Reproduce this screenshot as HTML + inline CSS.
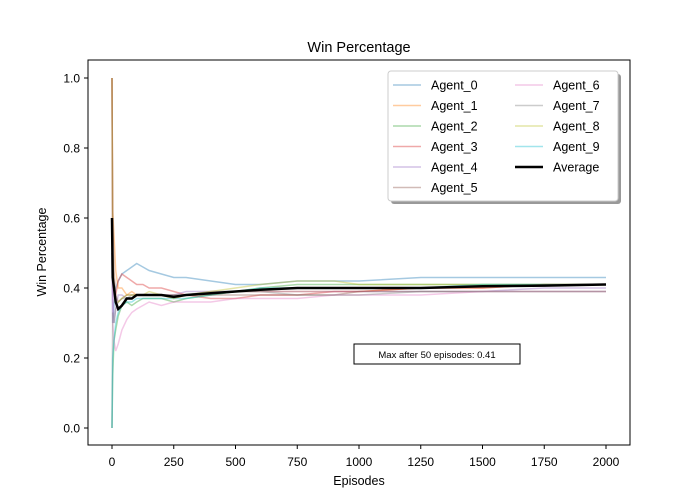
<!DOCTYPE html>
<html><head><meta charset="utf-8"><style>
body{margin:0;background:#fff}svg{display:block;font-family:"Liberation Sans","DejaVu Sans",sans-serif}
</style></head><body>
<svg id="chart" width="700" height="500" viewBox="0 0 700 500">
<rect width="700" height="500" fill="#fff"/>
<text x="359" y="52" font-size="14.5" text-anchor="middle">Win Percentage</text>
<g id="plot"></g>
<rect x="88" y="60" width="542" height="385" fill="none" stroke="#000" stroke-width="1"/>
<g id="axes" font-size="12"></g>
<text x="359" y="485" font-size="12.5" text-anchor="middle">Episodes</text>
<text x="46" y="252" font-size="12.5" text-anchor="middle" transform="rotate(-90 46 252)">Win Percentage</text>
<g>
<rect x="391" y="74" width="230" height="130" rx="3" fill="#999"/>
<rect x="388" y="71" width="230" height="130" rx="3" fill="#fff" stroke="#ccc"/>
<g id="legend-items" font-size="12.5"></g>
</g>
<g>
<rect x="354" y="344" width="166" height="20" fill="#fff" stroke="#000"/>
<text x="437" y="358" font-size="9.5" text-anchor="middle">Max after 50 episodes: 0.41</text>
</g>
</svg>
<script>
const episodes=[0,3,8,15,25,40,60,80,100,125,150,200,250,300,400,500,600,750,900,1000,1250,1500,1750,2000];
const agentNames=["Agent_0","Agent_1","Agent_2","Agent_3","Agent_4","Agent_5","Agent_6","Agent_7","Agent_8","Agent_9"];
const agent0=[0.5,0.3,0.35,0.40,0.42,0.44,0.45,0.46,0.47,0.46,0.45,0.44,0.43,0.43,0.42,0.41,0.41,0.42,0.42,0.42,0.43,0.43,0.43,0.43];
const agent1=[1.0,0.62,0.55,0.45,0.40,0.40,0.38,0.39,0.38,0.38,0.38,0.38,0.37,0.38,0.38,0.39,0.39,0.39,0.39,0.39,0.40,0.40,0.41,0.41];
const agent2=[0.0,0.15,0.25,0.28,0.32,0.35,0.36,0.35,0.36,0.37,0.37,0.37,0.36,0.37,0.38,0.39,0.40,0.41,0.41,0.41,0.41,0.41,0.41,0.41];
const agent3=[1.0,0.5,0.4,0.38,0.42,0.44,0.43,0.42,0.41,0.41,0.40,0.40,0.39,0.38,0.37,0.37,0.38,0.38,0.39,0.39,0.40,0.40,0.41,0.41];
const agent4=[1.0,0.4,0.3,0.34,0.38,0.38,0.37,0.37,0.38,0.38,0.38,0.38,0.38,0.39,0.39,0.39,0.39,0.39,0.39,0.39,0.39,0.39,0.40,0.40];
const agent5=[1.0,0.6,0.45,0.38,0.36,0.37,0.38,0.38,0.38,0.38,0.38,0.38,0.38,0.38,0.38,0.38,0.38,0.38,0.38,0.39,0.39,0.39,0.39,0.39];
const agent6=[0.5,0.3,0.25,0.22,0.24,0.28,0.31,0.33,0.34,0.35,0.36,0.35,0.36,0.36,0.36,0.37,0.37,0.37,0.38,0.38,0.38,0.39,0.39,0.39];
const agent7=[0.0,0.33,0.3,0.34,0.36,0.37,0.37,0.38,0.38,0.38,0.38,0.38,0.38,0.38,0.39,0.39,0.39,0.38,0.38,0.38,0.39,0.39,0.39,0.39];
const agent8=[1.0,0.5,0.4,0.36,0.36,0.37,0.38,0.38,0.38,0.38,0.39,0.38,0.37,0.38,0.39,0.40,0.41,0.42,0.42,0.41,0.41,0.41,0.41,0.41];
const agent9=[0.0,0.2,0.25,0.30,0.33,0.35,0.36,0.36,0.37,0.37,0.37,0.37,0.37,0.37,0.38,0.39,0.40,0.40,0.40,0.40,0.40,0.41,0.41,0.41];
const average=[0.6,0.43,0.40,0.36,0.34,0.35,0.37,0.37,0.38,0.38,0.38,0.38,0.375,0.38,0.385,0.39,0.395,0.40,0.40,0.40,0.40,0.405,0.407,0.41];
const xTicks=[0,250,500,750,1000,1250,1500,1750,2000];
const yTicks=[0.0,0.2,0.4,0.6,0.8,1.0];

const colors=["#1f77b4","#ff7f0e","#2ca02c","#d62728","#9467bd","#8c564b","#e377c2","#7f7f7f","#bcbd22","#17becf"];
const agents=[agent0,agent1,agent2,agent3,agent4,agent5,agent6,agent7,agent8,agent9];
const NS="http://www.w3.org/2000/svg";
const xs=v=>112+v*(494/2000);
const ys=v=>428-v*350;
function mk(t,a,p){const e=document.createElementNS(NS,t);for(const k in a)e.setAttribute(k,a[k]);p.appendChild(e);return e;}
const plot=document.getElementById('plot');
agents.forEach((arr,i)=>{
  const d=arr.map((v,j)=>(j?'L':'M')+xs(episodes[j]).toFixed(1)+' '+ys(v).toFixed(1)).join(' ');
  const p=mk('path',{d:d,fill:'none',stroke:colors[i],'stroke-width':1.5,'stroke-opacity':0.4},plot);
  
  
});
const ad=average.map((v,j)=>(j?'L':'M')+xs(episodes[j]).toFixed(1)+' '+ys(v).toFixed(1)).join(' ');
const avg=mk('path',{d:ad,fill:'none',stroke:'#000','stroke-width':2.5},plot);


const axes=document.getElementById('axes');
xTicks.forEach(t=>{
  const x=xs(t);
  mk('line',{x1:x,x2:x,y1:445,y2:449,stroke:'#000'},axes);
  const tx=mk('text',{x:x,y:466,'text-anchor':'middle'},axes);tx.textContent=t;
  
  
});
yTicks.forEach(t=>{
  const y=ys(t);
  mk('line',{x1:84,x2:88,y1:y,y2:y,stroke:'#000'},axes);
  const tx=mk('text',{x:80,y:y+4.5,'text-anchor':'end'},axes);tx.textContent=t.toFixed(1);
  
  
});
const leg=document.getElementById('legend-items');
const entries=agentNames.map((n,i)=>({n:n,c:colors[i],w:1.5,o:0.4})).concat([{n:"Average",c:"#000",w:2.5,o:1}]);
entries.forEach((e,i)=>{
  const col=i<6?0:1, row=i<6?i:i-6;
  const x=393+col*122, y=85+row*20.5;
  const g=mk('g',{},leg);
  
  
  mk('line',{x1:x,x2:x+28,y1:y,y2:y,stroke:e.c,'stroke-width':e.w,'stroke-opacity':e.o},g);
  const t=mk('text',{x:x+38,y:y+4.5},g);t.textContent=e.n;
});
</script>
</body></html>
